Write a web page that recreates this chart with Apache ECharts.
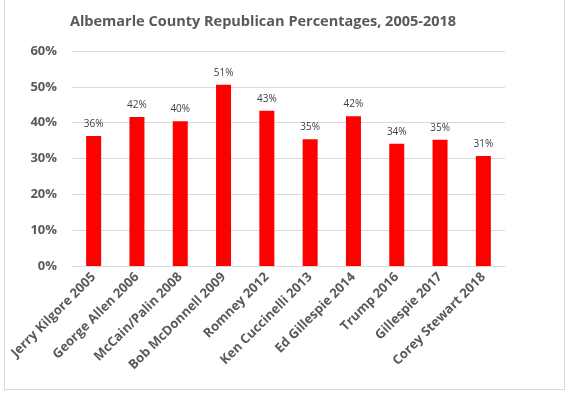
<!DOCTYPE html>
<html>
<head>
<meta charset="utf-8">
<script src="https://cdn.jsdelivr.net/npm/echarts@6/dist/echarts.min.js"></script>
<style>
html,body{margin:0;padding:0;background:#fff;}
#wrap{position:absolute;left:4px;top:0;width:561px;height:390px;border:1px solid #d9d9d9;border-top:none;box-sizing:border-box;}
#chart{position:absolute;left:0;top:0;width:569px;height:394px;}
</style>
</head>
<body>
<div id="wrap"></div>
<div id="chart"></div>
<script>
const categories = ["Jerry Kilgore 2005","George Allen 2006","McCain/Palin 2008","Bob McDonnell 2009","Romney 2012","Ken Cuccinelli 2013","Ed Gillespie 2014","Trump 2016","Gillespie 2017","Corey Stewart 2018"];
const values = [36.3, 41.6, 40.4, 50.6, 43.3, 35.4, 41.8, 34.1, 35.2, 30.7];
const yTicks = [0, 10, 20, 30, 40, 50, 60];

const FONT = '"Open Sans"';
const chart = echarts.init(document.getElementById('chart'));
chart.setOption({
  animation: false,
  title: {
    text: 'Albemarle County Republican Percentages, 2005-2018',
    left: 258, top: 9, textAlign: 'center',
    textStyle: {fontFamily: FONT, fontWeight: 'bold', fontSize: 14.5, color: '#595959'}
  },
  grid: {left: 72, right: 64, top: 51, bottom: 128},
  xAxis: {
    type: 'category',
    data: categories,
    axisLine: {lineStyle: {color: '#d9d9d9'}},
    axisTick: {show: false},
    axisLabel: {rotate: 45, interval: 0, fontFamily: FONT, fontWeight: 'bold', fontSize: 13, color: '#595959', margin: 9}
  },
  yAxis: {
    type: 'value',
    min: yTicks[0], max: yTicks[yTicks.length-1], interval: 10,
    axisLine: {show: false},
    axisTick: {show: false},
    splitLine: {lineStyle: {color: '#d9d9d9'}},
    axisLabel: {formatter: v => v + '%', fontFamily: FONT, fontWeight: 'bold', fontSize: 13, color: '#595959', margin: 15}
  },
  series: [{
    type: 'bar',
    data: values,
    barWidth: 15,
    itemStyle: {color: '#ff0000'},
    label: {show: true, position: 'top', distance: 7, formatter: p => Math.round(p.value) + '%', fontFamily: FONT, fontSize: 10, color: '#404040'}
  }]
});
</script>
</body>
</html>
